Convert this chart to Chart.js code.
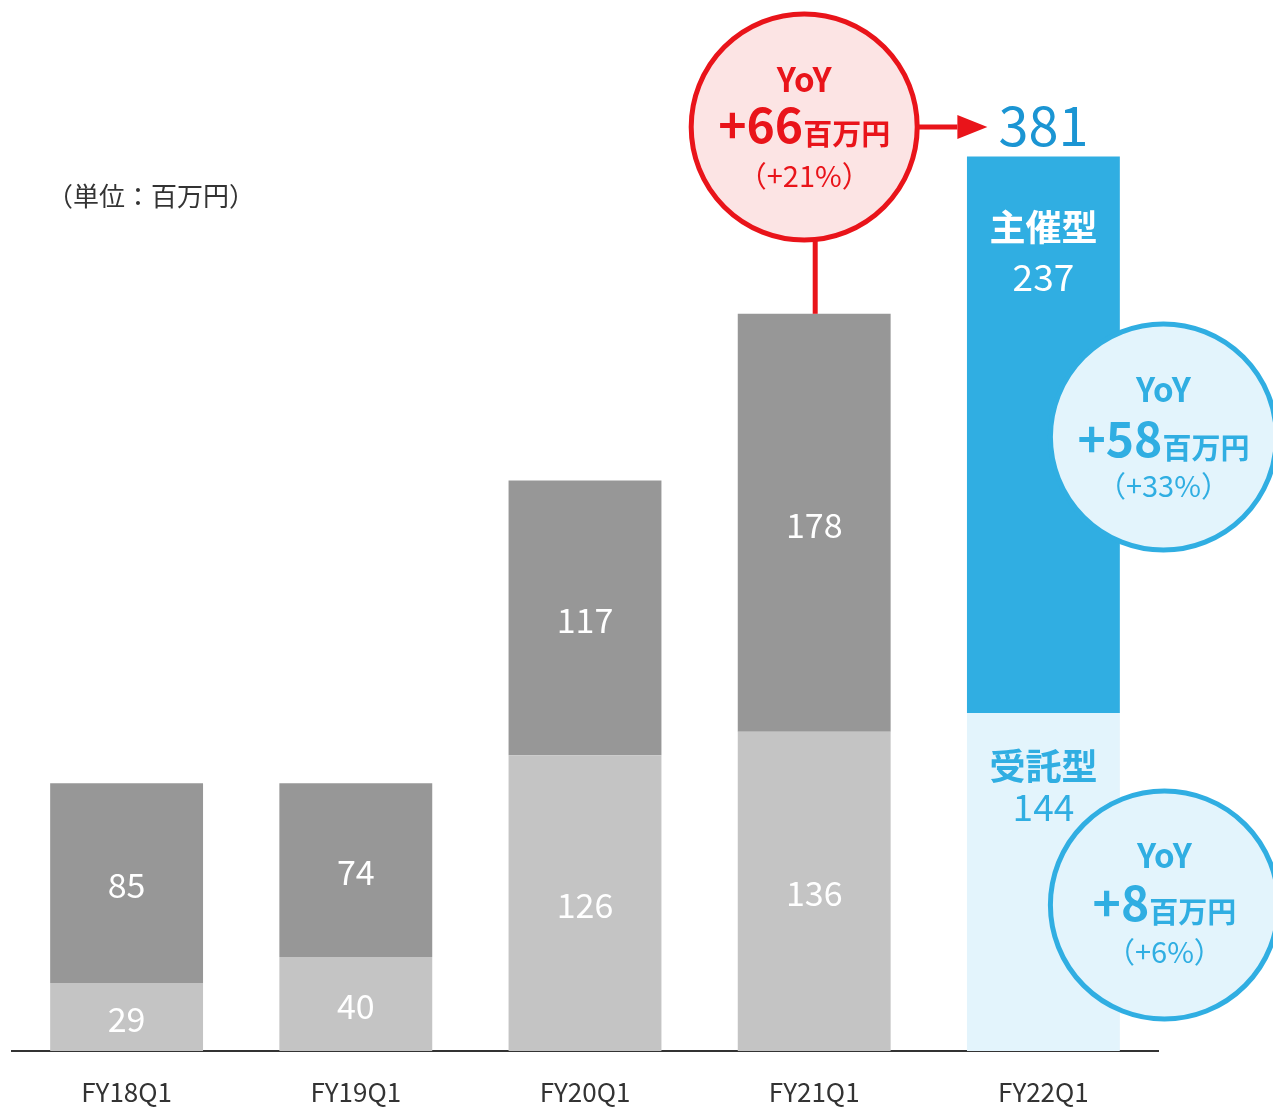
<!DOCTYPE html>
<html>
<head>
<meta charset="utf-8">
<script src="https://cdn.jsdelivr.net/npm/chart.js@4"></script>
<style>
    html, body { margin: 0; padding: 0; background: #fff; }
    #wrap { width: 1273px; height: 1110px; position: relative; }
</style>
</head>
<body>
<div id="wrap"><canvas id="bar-chart" width="1273" height="1110"></canvas></div>
<script>
// data
var quarters = ['FY18Q1', 'FY19Q1', 'FY20Q1', 'FY21Q1', 'FY22Q1'];
var jutaku = [29, 40, 126, 136, 144];    // 受託型
var shusai = [85, 74, 117, 178, 237];    // 主催型
var yMax = 440;

var FONT = "'Noto Sans CJK JP', 'Noto Sans', sans-serif";
var grayLight = '#c4c4c4';
var grayDark = '#979797';
var blue = '#30aee2';
var blueLight = '#e3f4fc';
var blueText = '#1b95d3';
var red = '#e9141a';
var redLight = '#fce4e4';

var lastIdx = quarters.length - 1;
var bottomColors = quarters.map(function (q, i) { return i === lastIdx ? blueLight : grayLight; });
var topColors = quarters.map(function (q, i) { return i === lastIdx ? blue : grayDark; });

// draws a "YoY / +xx百万円 / (+x%)" bubble
function drawBubble(ctx, cx, cy, r, stroke, fill, textColor, amount, pct, lines) {
    ctx.save();
    ctx.beginPath();
    ctx.arc(cx, cy, r, 0, Math.PI * 2);
    ctx.fillStyle = fill;
    ctx.fill();
    ctx.lineWidth = 5;
    ctx.strokeStyle = stroke;
    ctx.stroke();

    ctx.fillStyle = textColor;
    ctx.textAlign = 'center';
    ctx.textBaseline = 'alphabetic';
    ctx.font = 'bold 33px ' + FONT;
    ctx.fillText('YoY', cx, lines[0]);

    ctx.textAlign = 'left';
    ctx.font = 'bold 48px ' + FONT;
    var w1 = ctx.measureText(amount).width;
    ctx.font = 'bold 29px ' + FONT;
    var w2 = ctx.measureText('百万円').width;
    var x0 = cx - (w1 + w2) / 2;
    ctx.font = 'bold 48px ' + FONT;
    ctx.fillText(amount, x0, lines[1]);
    ctx.font = 'bold 29px ' + FONT;
    ctx.fillText('百万円', x0 + w1, lines[1] + 2);

    ctx.textAlign = 'center';
    ctx.font = '29px ' + FONT;
    ctx.fillText('（+' + pct + '%）', cx, lines[2]);
    ctx.restore();
}

var labelPlugin = {
    id: 'labels',
    afterDatasetsDraw: function (chart) {
        var ctx = chart.ctx;
        var bottomMeta = chart.getDatasetMeta(0);
        var topMeta = chart.getDatasetMeta(1);

        ctx.save();
        ctx.textAlign = 'center';
        ctx.textBaseline = 'middle';

        // value labels in the gray bars
        for (var i = 0; i < lastIdx; i++) {
            var b = bottomMeta.data[i];
            var t = topMeta.data[i];
            ctx.fillStyle = '#fff';
            ctx.font = '34px ' + FONT;
            ctx.fillText(String(jutaku[i]), b.x, (b.y + b.base) / 2 + 2);
            ctx.fillText(String(shusai[i]), t.x, (t.y + t.base) / 2 + 2);
        }

        // FY22Q1 labels
        var b22 = bottomMeta.data[lastIdx];
        var t22 = topMeta.data[lastIdx];
        ctx.textBaseline = 'alphabetic';
        ctx.fillStyle = '#fff';
        ctx.font = 'bold 36px ' + FONT;
        ctx.fillText('主催型', t22.x, t22.y + 84);
        ctx.font = '37px ' + FONT;
        ctx.fillText(String(shusai[lastIdx]), t22.x, t22.y + 134);

        ctx.fillStyle = blue;
        ctx.font = 'bold 36px ' + FONT;
        ctx.fillText('受託型', b22.x, b22.y + 67);
        ctx.font = '37px ' + FONT;
        ctx.fillText(String(jutaku[lastIdx]), b22.x, b22.y + 108);

        // total
        var total = jutaku[lastIdx] + shusai[lastIdx];
        ctx.fillStyle = blueText;
        ctx.font = '54px ' + FONT;
        ctx.fillText(String(total), t22.x, t22.y - 11);

        // unit
        ctx.fillStyle = '#333';
        ctx.textAlign = 'left';
        ctx.textBaseline = 'middle';
        ctx.font = '26px ' + FONT;
        ctx.fillText('（単位：百万円）', 47, 196);
        ctx.restore();

        // red YoY bubble over FY21Q1
        var t21 = topMeta.data[3];
        var rcx = t21.x - 10, rcy = 127, rr = 113;
        ctx.save();
        ctx.strokeStyle = red;
        ctx.fillStyle = red;
        ctx.lineWidth = 5;
        ctx.beginPath();
        ctx.moveTo(t21.x + 1, rcy + rr);
        ctx.lineTo(t21.x + 1, t21.y);
        ctx.stroke();
        ctx.beginPath();
        ctx.moveTo(rcx + rr, rcy);
        ctx.lineTo(t22.x - 86, rcy);
        ctx.stroke();
        ctx.beginPath();
        ctx.moveTo(t22.x - 86, rcy - 12);
        ctx.lineTo(t22.x - 56, rcy);
        ctx.lineTo(t22.x - 86, rcy + 12);
        ctx.closePath();
        ctx.fill();
        ctx.restore();
        drawBubble(ctx, rcx, rcy, rr, red, redLight, red, '+66', 21, [92, 143, 187]);

        // blue YoY bubbles at FY22Q1
        drawBubble(ctx, t22.x + 120, 437, 113, blue, blueLight, blue, '+58', 33, [402, 457, 497]);
        drawBubble(ctx, t22.x + 121, 905, 114, blue, blueLight, blue, '+8', 6, [868, 921, 963]);
    }
};

var ctx = document.getElementById('bar-chart').getContext('2d');
var myChart = new Chart(ctx, {
    type: 'bar',
    data: {
        labels: quarters,
        datasets: [{
            label: '受託型',
            data: jutaku,
            backgroundColor: bottomColors,
            borderWidth: 0
        }, {
            label: '主催型',
            data: shusai,
            backgroundColor: topColors,
            borderWidth: 0
        }]
    },
    options: {
        responsive: false,
        devicePixelRatio: 1,
        animation: false,
        layout: {
            padding: { left: 12, right: 115, top: 18, bottom: 0 }
        },
        datasets: {
            bar: { barPercentage: 0.667, categoryPercentage: 1 }
        },
        plugins: {
            legend: { display: false },
            tooltip: { enabled: false }
        },
        scales: {
            x: {
                stacked: true,
                grid: { display: false, drawTicks: false },
                border: { display: true, color: '#333', width: 2 },
                ticks: {
                    color: '#333',
                    padding: 26,
                    font: { family: FONT, size: 26 }
                },
                afterFit: function (scale) { scale.height = 59; }
            },
            y: {
                stacked: true,
                display: false,
                min: 0,
                max: yMax
            }
        }
    },
    plugins: [labelPlugin]
});
</script>
</body>
</html>
